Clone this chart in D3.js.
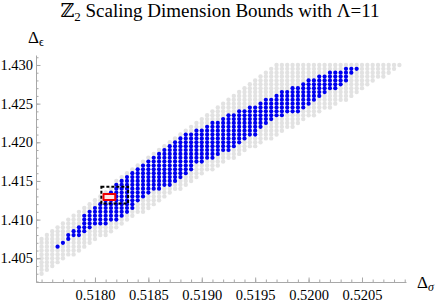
<!DOCTYPE html>
<html>
<head>
<meta charset="utf-8">
<script src="https://cdn.jsdelivr.net/npm/d3@7"></script>
<style>
  body { margin: 0; background: #fff; }
  svg text { font-family: "Liberation Serif", "Times New Roman", "DejaVu Serif", serif; }
</style>
</head>
<body>
<div id="chart"></div>
<script>
// grid columns in Delta_sigma
const sigmaCols = [
  0.51750,0.51755,0.51760,0.51765,0.51770,0.51775,0.51780,0.51785,0.51790,0.51795,
  0.51800,0.51805,0.51810,0.51815,0.51820,0.51825,0.51830,0.51835,0.51840,0.51845,
  0.51850,0.51855,0.51860,0.51865,0.51870,0.51875,0.51880,0.51885,0.51890,0.51895,
  0.51900,0.51905,0.51910,0.51915,0.51920,0.51925,0.51930,0.51935,0.51940,0.51945,
  0.51950,0.51955,0.51960,0.51965,0.51970,0.51975,0.51980,0.51985,0.51990,0.51995,
  0.52000,0.52005,0.52010,0.52015,0.52020,0.52025,0.52030,0.52035,0.52040,0.52045,
  0.52050,0.52055,0.52060,0.52065,0.52070,0.52075,0.52080,0.52085
];
// spacing of the grid rows in Delta_epsilon
const epsStep = 0.0005;

// sampled (gray) points: top and bottom row of each column
const grayHi = [
  1.4075,1.4080,1.4085,1.4090,1.4095,1.4100,1.4105,1.4110,1.4115,1.4120,
  1.4125,1.4130,1.4135,1.4140,1.4150,1.4155,1.4160,1.4165,1.4170,1.4175,
  1.4180,1.4185,1.4190,1.4195,1.4200,1.4205,1.4210,1.4215,1.4220,1.4225,
  1.4230,1.4235,1.4240,1.4245,1.4250,1.4255,1.4260,1.4265,1.4270,1.4275,
  1.4280,1.4285,1.4290,1.4295,1.4300,1.4300,1.4300,1.4300,1.4300,1.4300,
  1.4300,1.4300,1.4300,1.4300,1.4300,1.4300,1.4300,1.4300,1.4300,1.4300,
  1.4300,1.4300,1.4300,1.4300,1.4300,1.4300,1.4300,1.4300
];
const grayLo = [
  1.4030,1.4035,1.4040,1.4045,1.4050,1.4055,1.4055,1.4060,1.4065,1.4070,
  1.4075,1.4080,1.4080,1.4085,1.4090,1.4095,1.4100,1.4105,1.4110,1.4110,
  1.4115,1.4120,1.4125,1.4130,1.4135,1.4140,1.4140,1.4145,1.4150,1.4155,
  1.4160,1.4165,1.4165,1.4170,1.4175,1.4180,1.4180,1.4185,1.4190,1.4195,
  1.4195,1.4200,1.4205,1.4205,1.4210,1.4215,1.4220,1.4220,1.4225,1.4230,
  1.4235,1.4235,1.4240,1.4245,1.4245,1.4250,1.4255,1.4255,1.4260,1.4265,
  1.4270,1.4275,1.4280,1.4285,1.4285,1.4290,1.4295,1.4300
];

// allowed (blue) points: top and bottom row of each column
const blueHi = [
  null,null,null,1.4065,1.4070,1.4080,1.4085,1.4090,1.4105,1.4110,
  1.4115,1.4120,1.4130,1.4135,1.4145,1.4150,1.4155,1.4160,1.4165,1.4170,
  1.4175,1.4180,1.4185,1.4190,1.4195,1.4200,1.4205,1.4210,1.4210,1.4215,
  1.4215,1.4220,1.4225,1.4225,1.4230,1.4235,1.4235,1.4240,1.4240,1.4245,
  1.4245,1.4250,1.4255,1.4255,1.4260,1.4265,1.4265,1.4270,1.4270,1.4275,
  1.4280,1.4280,1.4285,1.4285,1.4290,1.4290,1.4290,1.4295,1.4295,1.4295,
  null,null,null,null,null,null,null,null
];
const blueLo = [
  null,null,null,1.4065,1.4070,1.4075,1.4080,1.4080,1.4085,1.4090,
  1.4095,1.4095,1.4095,1.4100,1.4100,1.4105,1.4110,1.4115,1.4125,1.4130,
  1.4135,1.4140,1.4140,1.4145,1.4145,1.4150,1.4155,1.4160,1.4165,1.4175,
  1.4175,1.4180,1.4180,1.4185,1.4190,1.4190,1.4195,1.4200,1.4205,1.4210,
  1.4210,1.4220,1.4225,1.4230,1.4235,1.4235,1.4240,1.4240,1.4240,1.4245,
  1.4250,1.4255,1.4260,1.4265,1.4270,1.4270,1.4275,1.4280,1.4290,1.4295,
  null,null,null,null,null,null,null,null
];

// red island and dashed zoom box
const redSigma = [0.51808, 0.51819, 0.51819, 0.51808];
const redEps   = [1.41332, 1.41332, 1.41254, 1.41254];
const boxSigma = [0.51806, 0.51831];
const boxEps   = [1.41209, 1.41426];

// ticks
const xMajor = [0.5180, 0.5185, 0.5190, 0.5195, 0.5200, 0.5205];
const yMajor = [1.405, 1.410, 1.415, 1.420, 1.425, 1.430];

const width = 441, height = 305;
const serif = '"Liberation Serif", "Times New Roman", "DejaVu Serif", serif';

const x = d3.scaleLinear().domain([0.517448, 0.520912]).range([36, 406]);
const y = d3.scaleLinear().domain([1.40193, 1.43129]).range([282, 55]);

const svg = d3.select("#chart")
  .append("svg")
  .attr("width", width)
  .attr("height", height)
  .attr("font-family", serif);

// expand a column table into grid points
function columnPoints(lo, hi) {
  const pts = [];
  sigmaCols.forEach((s, i) => {
    if (lo[i] == null) return;
    const n = Math.round((hi[i] - lo[i]) / epsStep);
    for (let k = 0; k <= n; k++) pts.push([s, lo[i] + k * epsStep]);
  });
  return pts;
}

const grayPts = columnPoints(grayLo, grayHi);
const bluePts = columnPoints(blueLo, blueHi);

svg.append("g").selectAll("circle")
  .data(grayPts)
  .join("circle")
  .attr("cx", d => x(d[0]))
  .attr("cy", d => y(d[1]))
  .attr("r", 2.2)
  .attr("fill", "#e2e2e2");

svg.append("g").selectAll("circle")
  .data(bluePts)
  .join("circle")
  .attr("cx", d => x(d[0]))
  .attr("cy", d => y(d[1]))
  .attr("r", 2.1)
  .attr("fill", "#0000f0");

// dashed box
svg.append("rect")
  .attr("x", x(boxSigma[0]))
  .attr("y", y(boxEps[1]))
  .attr("width", x(boxSigma[1]) - x(boxSigma[0]))
  .attr("height", y(boxEps[0]) - y(boxEps[1]))
  .attr("fill", "none")
  .attr("stroke", "#000")
  .attr("stroke-width", 2)
  .attr("stroke-dasharray", "3,2");

// red region
const redLine = d3.line().x(d => x(d[0])).y(d => y(d[1])).curve(d3.curveLinearClosed);
svg.append("path")
  .attr("d", redLine(redSigma.map((s, i) => [s, redEps[i]])))
  .attr("fill", "#ffe8e8")
  .attr("stroke", "#f00000")
  .attr("stroke-width", 2)
  .attr("stroke-linejoin", "round");

// x axis
const axisColor = "#a8a8a8";
const xMinor = d3.range(0.5175, 0.52091, 0.0001).filter(v => v >= 0.517448);
svg.append("g")
  .attr("transform", "translate(0,282)")
  .call(d3.axisBottom(x).tickValues(xMinor).tickSize(-2.5).tickSizeOuter(0).tickFormat(""))
  .call(g => g.selectAll("line,path").attr("stroke", axisColor));
svg.append("g")
  .attr("transform", "translate(0,282)")
  .call(d3.axisBottom(x).tickValues(xMajor).tickSize(-4.5).tickSizeOuter(0)
    .tickPadding(7.5).tickFormat(d3.format(".4f")))
  .attr("font-family", serif)
  .attr("font-size", 14.5)
  .call(g => g.select(".domain").remove())
  .call(g => g.selectAll("line").attr("stroke", axisColor))
  .call(g => g.selectAll("text").attr("fill", "#000"));

// y axis
const yMinor = d3.range(1.402, 1.4313, 0.001);
svg.append("g")
  .attr("transform", "translate(36,0)")
  .call(d3.axisLeft(y).tickValues(yMinor).tickSize(-2.5).tickSizeOuter(0).tickFormat(""))
  .call(g => g.selectAll("line,path").attr("stroke", axisColor));
svg.append("g")
  .attr("transform", "translate(36,0)")
  .call(d3.axisLeft(y).tickValues(yMajor).tickSize(-4.5).tickSizeOuter(0)
    .tickPadding(3).tickFormat(d3.format(".3f")))
  .attr("font-family", serif)
  .attr("font-size", 14.5)
  .call(g => g.select(".domain").remove())
  .call(g => g.selectAll("line").attr("stroke", axisColor))
  .call(g => g.selectAll("text").attr("fill", "#000"));

// title
const title = svg.append("text")
  .attr("x", 220)
  .attr("y", 17)
  .attr("text-anchor", "middle")
  .attr("font-size", 19);
title.append("tspan").text("\u2124");
title.append("tspan").attr("dy", 4).attr("font-size", 13).text("2");
title.append("tspan").attr("dy", -4).text(" Scaling Dimension Bounds with \u039B=11");

// axis labels
const xl = svg.append("text").attr("x", 417).attr("y", 288).attr("font-size", 17);
xl.append("tspan").text("\u0394");
xl.append("tspan").attr("dy", 3).attr("font-size", 12).attr("font-style", "italic").text("\u03C3");

const yl = svg.append("text").attr("x", 28).attr("y", 43).attr("font-size", 17);
yl.append("tspan").text("\u0394");
yl.append("tspan").attr("dy", 3).attr("font-size", 12).text("\u03F5");
</script>
</body>
</html>
